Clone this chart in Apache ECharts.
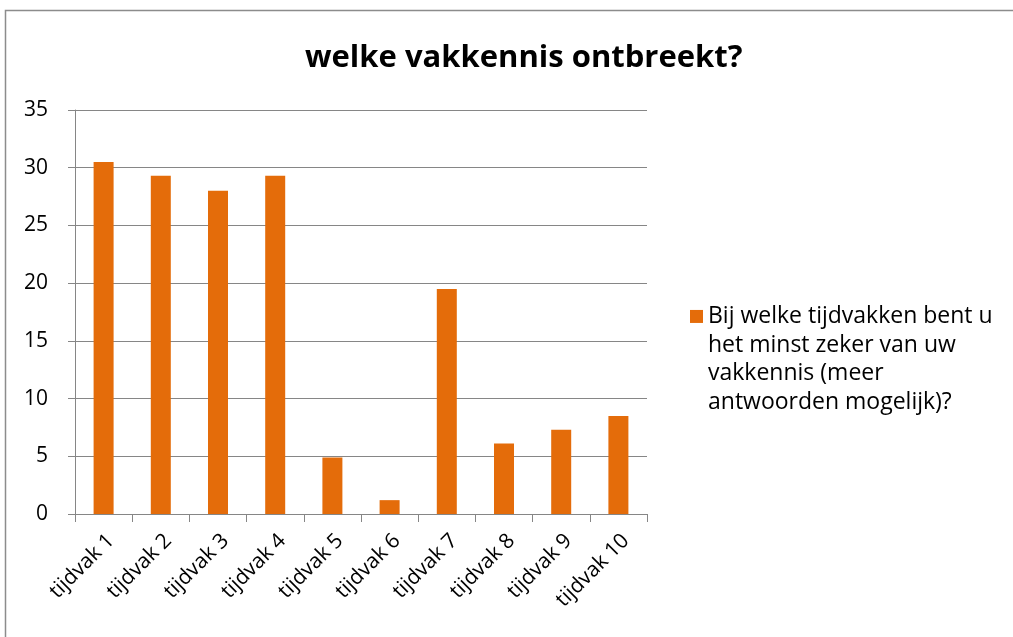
<!DOCTYPE html>
<html>
<head>
<meta charset="utf-8">
<script src="https://cdn.jsdelivr.net/npm/echarts@6/dist/echarts.min.js"></script>
<style>
  html, body { margin: 0; padding: 0; background: #fff; }
  #chart { width: 1013px; height: 637px; }
</style>
</head>
<body>
<div id="chart"></div>
<script>
const categories = ['tijdvak 1', 'tijdvak 2', 'tijdvak 3', 'tijdvak 4', 'tijdvak 5',
  'tijdvak 6', 'tijdvak 7', 'tijdvak 8', 'tijdvak 9', 'tijdvak 10']
const values = [30.5, 29.3, 28.0, 29.3, 4.9, 1.2, 19.5, 6.1, 7.3, 8.5]
const seriesName = 'Bij welke tijdvakken bent u het minst zeker van uw vakkennis (meer antwoorden mogelijk)?'
const legendLines = ['Bij welke tijdvakken bent u', 'het minst zeker van uw', 'vakkennis (meer', 'antwoorden mogelijk)?']
const titleText = 'welke vakkennis ontbreekt?'

const font = '"Open Sans", sans-serif'
const gray = '#868686'
const orange = '#e46c0a'

const chart = echarts.init(document.getElementById('chart'))
chart.setOption({
  animation: false,
  backgroundColor: '#fff',
  graphic: [{
    type: 'rect',
    shape: { x: 5.5, y: 10.5, width: 1030, height: 650 },
    style: { fill: 'none', stroke: '#8c8c8c', lineWidth: 1.5 },
    silent: true,
  }],
  title: {
    text: titleText,
    left: 300,
    top: 38,
    textStyle: { fontFamily: font, fontWeight: 'bold', fontSize: 31, color: '#000' },
  },
  legend: {
    orient: 'vertical',
    left: 690,
    top: 216,
    padding: 0,
    itemWidth: 13,
    itemHeight: 13,
    icon: 'rect',
    // blank lines in front keep the swatch level with the first text line
    formatter: () => '\n\n\n' + legendLines.join('\n'),
    textStyle: { fontFamily: font, fontSize: 23, lineHeight: 28.7, color: '#000' },
  },
  grid: { left: 75, right: 366, top: 110, bottom: 123, containLabel: false },
  xAxis: {
    type: 'category',
    data: categories,
    axisLine: { lineStyle: { color: gray, width: 1 } },
    axisTick: { show: true, length: 8, lineStyle: { color: gray }, alignWithLabel: false },
    axisLabel: {
      rotate: 45, margin: 16, interval: 0, verticalAlign: 'top',
      fontFamily: font, fontSize: 21, color: '#000',
    },
  },
  yAxis: {
    type: 'value',
    min: 0,
    max: 35,
    interval: 5,
    axisLine: { show: true, lineStyle: { color: gray } },
    axisTick: { show: true, length: 7, lineStyle: { color: gray } },
    splitLine: { lineStyle: { color: gray } },
    axisLabel: { margin: 27, fontFamily: font, fontSize: 21, color: '#000' },
  },
  series: [{
    name: seriesName,
    type: 'bar',
    data: values,
    barWidth: 20,
    itemStyle: { color: orange },
  }],
})
</script>
</body>
</html>
